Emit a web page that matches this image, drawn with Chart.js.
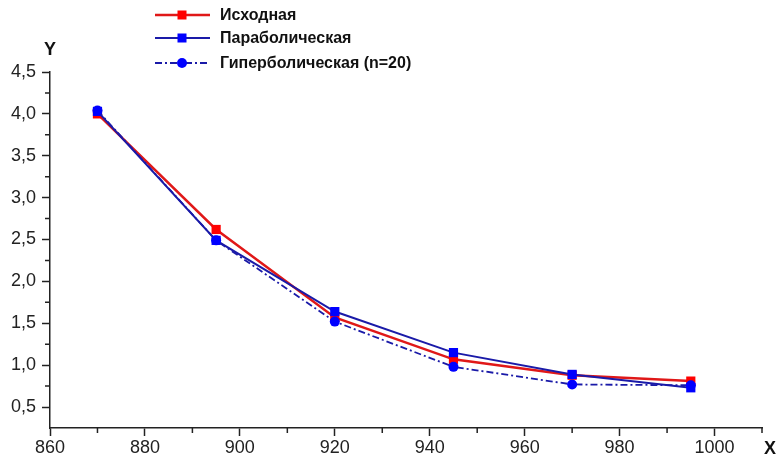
<!DOCTYPE html>
<html>
<head>
<meta charset="utf-8">
<script src="https://cdn.jsdelivr.net/npm/chart.js@4"></script>
<style>
  html, body { margin: 0; padding: 0; background: #fff; }
  #wrap { width: 777px; height: 460px; }
</style>
</head>
<body>
<div id="wrap"><canvas id="chart" width="777" height="460"></canvas></div>
<script>
const xValues = [870, 895, 920, 945, 970, 995];
const ishodnaya = [4.0, 2.62, 1.57, 1.07, 0.88, 0.81];
const parabolic = [4.03, 2.49, 1.64, 1.15, 0.89, 0.73];
const hyperbolic = [4.04, 2.49, 1.52, 0.98, 0.77, 0.76];
const seriesNames = ['Исходная', 'Параболическая', 'Гиперболическая (n=20)'];
const xMajorTicks = [860, 880, 900, 920, 940, 960, 980, 1000];
const yMajorTicks = [0.5, 1.0, 1.5, 2.0, 2.5, 3.0, 3.5, 4.0, 4.5];
const xMinorTicks = [870, 890, 910, 930, 950, 970, 990, 1010];
const yMinorTicks = [0.75, 1.25, 1.75, 2.25, 2.75, 3.25, 3.75, 4.25];

const FONT = "'Liberation Sans', Arial, sans-serif";
const toPoints = (ys) => ys.map((y, i) => ({ x: xValues[i], y }));

// minor ticks (shorter than the major ones), legend and axis letters
const extrasPlugin = {
  id: 'extras',
  afterDraw(chart) {
    const ctx = chart.ctx;
    const { x: xs, y: ys } = chart.scales;
    const area = chart.chartArea;
    ctx.save();
    ctx.strokeStyle = '#222';
    ctx.lineWidth = 1.5;
    ctx.beginPath();
    xMinorTicks.forEach(v => {
      const px = xs.getPixelForValue(v);
      ctx.moveTo(px, area.bottom);
      ctx.lineTo(px, area.bottom + 5);
    });
    yMinorTicks.forEach(v => {
      const py = ys.getPixelForValue(v);
      ctx.moveTo(area.left, py);
      ctx.lineTo(area.left - 5, py);
    });
    ctx.stroke();
    ctx.restore();

    const rows = [15, 38, 63];
    chart.data.datasets.forEach((ds, i) => {
      const y = rows[i];
      ctx.save();
      ctx.strokeStyle = ds.borderColor;
      ctx.lineWidth = ds.borderWidth;
      ctx.setLineDash(ds.borderDash || []);
      ctx.beginPath();
      ctx.moveTo(155, y);
      ctx.lineTo(210, y);
      ctx.stroke();
      ctx.setLineDash([]);
      ctx.fillStyle = ds.pointBackgroundColor;
      if (ds.pointStyle === 'circle') {
        ctx.beginPath();
        ctx.arc(182, y, 5, 0, Math.PI * 2);
        ctx.fill();
      } else {
        ctx.fillRect(177.5, y - 4.5, 9, 9);
      }
      ctx.fillStyle = '#111';
      ctx.font = 'bold 16px ' + FONT;
      ctx.textBaseline = 'middle';
      ctx.fillText(ds.label, 220, y + 1);
      ctx.restore();
    });

    ctx.save();
    ctx.fillStyle = '#111';
    ctx.font = 'bold 18px ' + FONT;
    ctx.textBaseline = 'middle';
    ctx.textAlign = 'center';
    ctx.fillText('Y', 50, 50);
    ctx.textAlign = 'left';
    ctx.fillText('X', 764, 449);
    ctx.restore();
  }
};

new Chart(document.getElementById('chart'), {
  type: 'scatter',
  data: {
    datasets: [
      {
        label: seriesNames[0],
        data: toPoints(ishodnaya),
        showLine: true,
        borderColor: '#e01818',
        borderWidth: 2.5,
        pointStyle: 'rect',
        pointRadius: 6.5,
        pointBackgroundColor: '#ff0000',
        pointBorderWidth: 0,
        order: 3,
      },
      {
        label: seriesNames[1],
        data: toPoints(parabolic),
        showLine: true,
        borderColor: '#1a1aa8',
        borderWidth: 2,
        pointStyle: 'rect',
        pointRadius: 6.5,
        pointBackgroundColor: '#0000ff',
        pointBorderWidth: 0,
        order: 2,
      },
      {
        label: seriesNames[2],
        data: toPoints(hyperbolic),
        showLine: true,
        borderColor: '#1a1aa8',
        borderWidth: 1.8,
        borderDash: [7, 3, 2, 3],
        pointStyle: 'circle',
        pointRadius: 5,
        pointBackgroundColor: '#0000ff',
        pointBorderWidth: 0,
        order: 1,
      },
    ]
  },
  options: {
    responsive: false,
    animation: false,
    layout: { padding: { top: 72, right: 15, left: 0, bottom: 0 } },
    plugins: {
      legend: { display: false },
      tooltip: { enabled: false },
    },
    scales: {
      x: {
        type: 'linear',
        min: 860,
        max: 1010,
        afterFit: (scale) => { scale.height = 32; },
        afterBuildTicks: (scale) => { scale.ticks = xMajorTicks.map(v => ({ value: v })); },
        border: { display: true, color: '#222', width: 1.5 },
        grid: { drawOnChartArea: false, drawTicks: true, tickLength: 8, tickColor: '#222', tickWidth: 1.5 },
        ticks: {
          autoSkip: false,
          maxRotation: 0,
          padding: 1,
          color: '#222',
          font: { family: FONT, size: 18 },
          callback: (v) => String(v),
        },
      },
      y: {
        min: 0.25,
        max: 4.5,
        afterFit: (scale) => { scale.width = 50; },
        afterBuildTicks: (scale) => { scale.ticks = yMajorTicks.map(v => ({ value: v })); },
        border: { display: true, color: '#222', width: 1.5 },
        grid: { drawOnChartArea: false, drawTicks: true, tickLength: 8, tickColor: '#222', tickWidth: 1.5 },
        ticks: {
          autoSkip: false,
          padding: 6,
          color: '#222',
          font: { family: FONT, size: 18 },
          callback: (v) => v.toFixed(1).replace('.', ','),
        },
      },
    },
  },
  plugins: [extrasPlugin],
});
</script>
</body>
</html>
